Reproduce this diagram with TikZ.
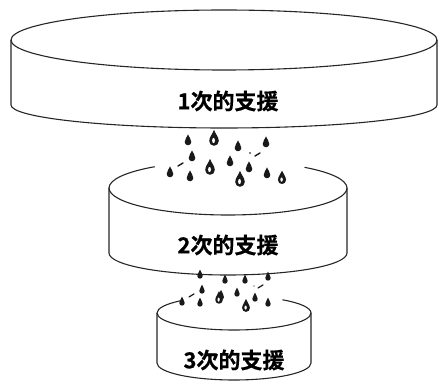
\documentclass[tikz,border=0pt]{standalone}
\usepackage{fontspec}
\newfontfamily\jpfont{Noto Sans CJK JP}[BoldFont={Noto Sans CJK JP Bold},BoldFeatures={FakeBold=0.6}]
\begin{document}
\begin{tikzpicture}[x=1pt,y=-1pt,line join=round,
  rim/.style={line width=1.1pt,black!85},
  label/.style={font=\jpfont\bfseries\fontsize{22}{22}\selectfont,inner sep=0pt},
  drop/.pic={
    \fill[black!90] (0pt,7pt) .. controls (0.8pt,4.5pt) and (3pt,2.4pt) .. (3pt,0pt)
      arc[start angle=0,end angle=-180,radius=3pt]
      .. controls (-3pt,2.4pt) and (-0.8pt,4.5pt) .. cycle;
  },
  bigdrop/.pic={
    \fill[black!90] (0pt,7pt) .. controls (0.8pt,4.5pt) and (3pt,2.4pt) .. (3pt,0pt)
      arc[start angle=0,end angle=-180,radius=3pt]
      .. controls (-3pt,2.4pt) and (-0.8pt,4.5pt) .. cycle;
    \fill[white] (-0.3pt,0.3pt) ellipse[x radius=0.9pt,y radius=1.6pt];
  },
  splash/.style={line width=1.4pt,line cap=round,black!90}]
\useasboundingbox (0,0) rectangle (440,382);

% ---- first tier ----
\draw[rim] (224,40) ellipse[x radius=213pt,y radius=30pt];
\draw[rim] (11,40) -- (11,105)
  arc[start angle=180,end angle=360,x radius=213pt,y radius=23pt] -- (437,40);
\node[label] (t1) at (228,101) {1次的支援};

% ---- second tier ----
\draw[rim] (109,188) arc[start angle=180,end angle=128,x radius=119pt,y radius=27pt];
\draw[rim] (347,188) arc[start angle=0,end angle=50,x radius=119pt,y radius=27pt];
\draw[rim] (109,188) arc[start angle=180,end angle=360,x radius=119pt,y radius=27pt];
\draw[rim] (109,188) -- (109,253)
  arc[start angle=180,end angle=360,x radius=119pt,y radius=22pt] -- (347,188);
\node[label] (t2) at (228,245) {2次的支援};

% ---- third tier ----
\draw[rim] (157,313) arc[start angle=180,end angle=134,x radius=77pt,y radius=17pt];
\draw[rim] (311,313) arc[start angle=0,end angle=51,x radius=77pt,y radius=17pt];
\draw[rim] (157,313) arc[start angle=180,end angle=360,x radius=77pt,y radius=17pt];
\draw[rim] (157,313) -- (157,363)
  arc[start angle=180,end angle=360,x radius=77pt,y radius=17pt] -- (311,313);
\node[label] (t3) at (234,360) {3次的支援};

% ---- drops falling from the first tier ----
\pic[scale=1.1] at (188,142) {drop};
\pic[scale=1.6] at (214,141) {bigdrop};
\pic[scale=1.1] at (238,148) {drop};
\pic[scale=1.1] at (266,144) {drop};
\pic[scale=1.1] at (192,158) {drop};
\pic[scale=1.1] at (230,163) {drop};
\pic[scale=1.6] at (210,170) {bigdrop};
\pic[scale=1.1] at (170,174) {drop};
\pic[scale=1.1] at (190,178) {drop};
\pic[scale=1.1] at (249,169) {drop};
\pic[scale=1.6] at (240,182) {bigdrop};
\pic[scale=1.1] at (267,175) {drop};
\pic[scale=1.35] at (282,180) {bigdrop};
\draw[splash] (178,166) -- (183,163);
\draw[splash] (255,156) -- (260,153);
\fill (250,153) circle[radius=0.8pt];

% ---- drops falling from the second tier ----
\pic[scale=0.9] at (200,276) {drop};
\pic[scale=0.9] at (225,281) {drop};
\pic[scale=0.9] at (245,281) {drop};
\pic[scale=0.9] at (268,278) {drop};
\pic[scale=0.9] at (202,291) {drop};
\pic[scale=1.0] at (221,297) {drop};
\pic[scale=0.9] at (237,294) {drop};
\pic[scale=0.9] at (255,299) {drop};
\pic[scale=0.9] at (182,303) {drop};
\pic[scale=0.9] at (200,304) {drop};
\pic[scale=1.25] at (219,300) {bigdrop};
\pic[scale=1.3] at (246,308) {bigdrop};
\pic[scale=0.9] at (268,304) {drop};
\draw[splash,line width=1.2pt] (189,297) -- (194,294);
\draw[splash,line width=1.2pt] (258,288) -- (263,285);
\fill (254,286) circle[radius=0.7pt];
\end{tikzpicture}
\end{document}
